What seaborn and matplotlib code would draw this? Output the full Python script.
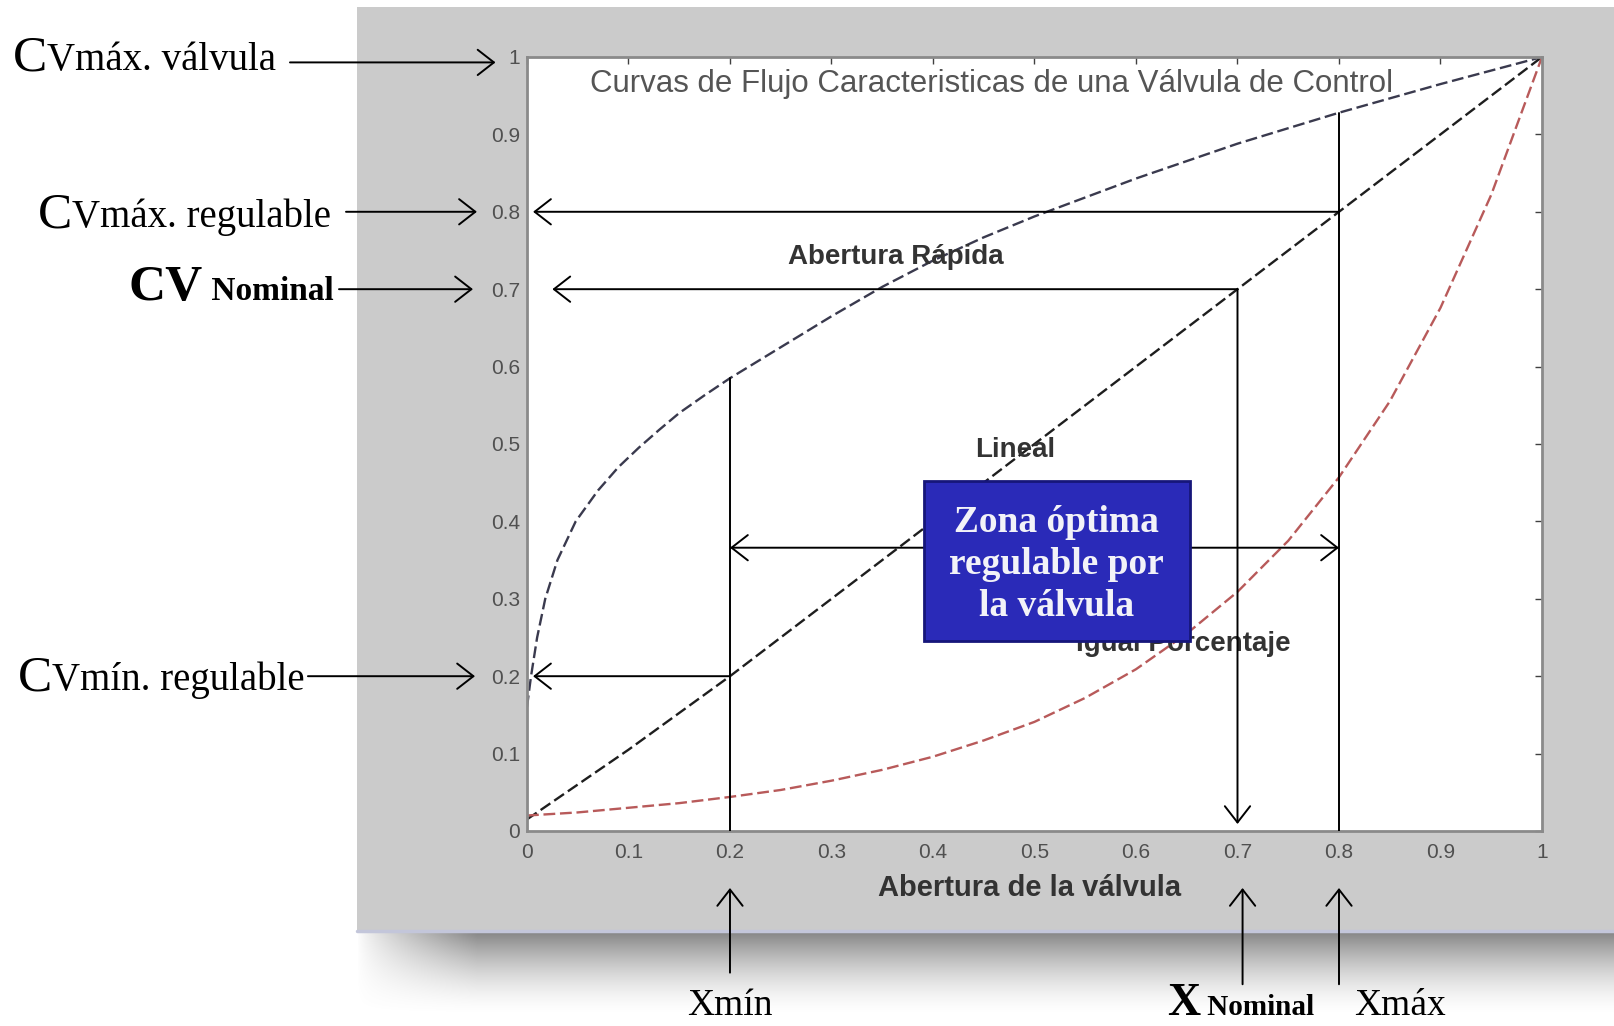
import numpy as np
import matplotlib
matplotlib.use("Agg")
import matplotlib.pyplot as plt
import seaborn as sns
from matplotlib.patches import Rectangle
from matplotlib.transforms import blended_transform_factory, IdentityTransform

# ---------------------------------------------------------------
# Datos (caudal relativo vs apertura)
# ---------------------------------------------------------------
rapida_x = [0.0, 0.004, 0.01, 0.018, 0.03, 0.048, 0.07, 0.09, 0.11, 0.13, 0.15, 0.175,
            0.20, 0.25, 0.30, 0.35, 0.40, 0.45, 0.50, 0.60, 0.70, 0.80, 0.90, 1.00]
rapida_y = [0.16, 0.20, 0.25, 0.30, 0.35, 0.40, 0.44, 0.47, 0.495, 0.518, 0.54, 0.563,
            0.585, 0.625, 0.665, 0.703, 0.737, 0.767, 0.794, 0.843, 0.888, 0.928, 0.965, 1.00]

lineal_x = [0.0, 0.1, 0.2, 0.3, 0.4, 0.5, 0.6, 0.7, 0.8, 0.9, 1.0]
lineal_y = [0.015, 0.105, 0.20, 0.30, 0.40, 0.50, 0.60, 0.70, 0.80, 0.90, 1.00]

igual_x = [0.0, 0.05, 0.10, 0.15, 0.20, 0.25, 0.30, 0.35, 0.40, 0.45, 0.50,
           0.55, 0.60, 0.65, 0.70, 0.75, 0.80, 0.85, 0.90, 0.95, 1.00]
igual_y = [0.020, 0.024, 0.030, 0.036, 0.044, 0.053, 0.065, 0.079, 0.096, 0.117, 0.141,
           0.172, 0.209, 0.255, 0.309, 0.375, 0.457, 0.555, 0.676, 0.822, 1.000]

ticks = [0, 0.1, 0.2, 0.3, 0.4, 0.5, 0.6, 0.7, 0.8, 0.9, 1.0]
tick_labels = ["0", "0.1", "0.2", "0.3", "0.4", "0.5", "0.6", "0.7", "0.8", "0.9", "1"]

x_min, x_nom, x_max = 0.2, 0.7, 0.8
cv_min, cv_nom, cv_max = 0.2, 0.7, 0.8

sns.set_theme(style="white")
plt.rcParams["font.family"] = ["Liberation Sans", "DejaVu Sans"]
SERIF = ["Liberation Serif", "DejaVu Serif"]

fig = plt.figure(figsize=(16.15, 10.26), dpi=100)
fig.patch.set_facecolor("white")

# ---------------------------------------------------------------
# Fondo: panel gris con sombra (en pixeles de la figura)
# ---------------------------------------------------------------
bg = fig.add_axes([0, 0, 1, 1], zorder=0)
yy = np.linspace(0, 1, 90)[:, None]
xx = np.linspace(0, 1258, 1258)[None, :]
alpha = (1 - yy) ** 1.6 * np.clip(xx / 120, 0, 1) ** 0.8
sombra = np.zeros((90, 1258, 4))
sombra[..., :3] = 0.5
sombra[..., 3] = alpha * 0.95
bg.imshow(sombra, extent=(357, 1615, 1015, 932), aspect="auto", interpolation="bilinear")
bg.add_patch(Rectangle((357, 7), 1615 - 357, 925, facecolor="#CBCBCB", edgecolor="none"))
bg.plot([357, 1615], [931, 931], color="#C3C6DA", lw=2.5)
bg.set_xlim(0, 1615)
bg.set_ylim(1026, 0)
bg.axis("off")

# ---------------------------------------------------------------
# Grafico principal
# ---------------------------------------------------------------
ax = fig.add_axes([0.3263, 0.19006, 0.6285, 0.7544], zorder=1)
ax.set_facecolor("white")

sns.lineplot(x=rapida_x, y=rapida_y, ax=ax, color="#3a3a4e", lw=1.7,
             linestyle=(0, (5, 2)), zorder=2)
sns.lineplot(x=lineal_x, y=lineal_y, ax=ax, color="#1e1e1e", lw=1.7,
             linestyle=(0, (5, 2)), zorder=2)
sns.lineplot(x=igual_x, y=igual_y, ax=ax, color="#b85a5a", lw=1.7,
             linestyle=(0, (5, 2)), zorder=2)

ax.set_xlim(0, 1)
ax.set_ylim(0, 1)
ax.set_xticks(ticks)
ax.set_xticklabels(tick_labels)
ax.set_yticks(ticks)
ax.set_yticklabels(tick_labels)
ax.tick_params(direction="in", length=5, width=1, color="#404040",
               top=True, right=True, labelsize=15, labelcolor="#505050")
ax.tick_params(axis="x", pad=9)
ax.tick_params(axis="y", pad=5)
for s in ax.spines.values():
    s.set_color("#8a8a8a")
    s.set_linewidth(2)

ax.set_xlabel("Abertura de la válvula", fontsize=21, fontweight="bold", color="#333333")
ax.xaxis.set_label_coords(0.495, -0.0736)
ax.xaxis.label.set_va("center")

ax.text(0.458, 0.9645, "Curvas de Flujo Caracteristicas de una Válvula de Control",
        fontsize=22.5, color="#555555", ha="center", va="center")
ax.text(0.3635, 0.741, "Abertura Rápida", fontsize=20, fontweight="bold",
        color="#333333", ha="center", va="center")
ax.text(0.481, 0.492, "Lineal", fontsize=20, fontweight="bold",
        color="#333333", ha="center", va="center")
ax.text(0.647, 0.2416, "Igual Porcentaje", fontsize=20, fontweight="bold",
        color="#333333", ha="center", va="center", zorder=3)


def flecha(x0, y0, x1, y1, coords="data", estilo="->"):
    ax.annotate("", xy=(x1, y1), xytext=(x0, y0), xycoords=coords, textcoords=coords,
                arrowprops=dict(arrowstyle=f"{estilo},head_length=0.45,head_width=0.35",
                                lw=1.4, color="black", shrinkA=0, shrinkB=0,
                                mutation_scale=26),
                annotation_clip=False, zorder=4)


# lineas de referencia dentro del grafico
q_min = rapida_y[rapida_x.index(x_min)]
q_max = rapida_y[rapida_x.index(x_max)]
ax.plot([x_min, x_min], [0, q_min], color="black", lw=1.4, zorder=4)
ax.plot([x_max, x_max], [0, q_max], color="black", lw=1.4, zorder=4)
flecha(x_max, cv_max, 0.006, cv_max)
flecha(x_nom, cv_nom, 0.025, cv_nom)
flecha(x_nom, cv_nom, x_nom, 0.009)
flecha(x_min, cv_min, 0.006, cv_min)
flecha(x_min, 0.366, x_max, 0.366, estilo="<->")

ax.add_patch(Rectangle((0.391, 0.246), 0.262, 0.206, facecolor="#2A2AB8",
                       edgecolor="#16167A", lw=2, zorder=5))
ax.text(0.522, 0.344, "Zona óptima\nregulable por\nla válvula", family=SERIF,
        fontsize=27, fontweight="bold", color="#F2F2F8", ha="center", va="center",
        linespacing=1.26, zorder=6)

# ---------------------------------------------------------------
# Etiquetas exteriores (tamano de letra mixto, misma linea base)
# ---------------------------------------------------------------
izq = blended_transform_factory(ax.transAxes, ax.transData)
abajo = blended_transform_factory(ax.transData, ax.transAxes)
renderer = fig.canvas.get_renderer()


def etiqueta(partes, x, y, trans):
    px, py = trans.transform((x, y))
    for texto, size, peso in partes:
        t = fig.text(px, py, texto, transform=IdentityTransform(), ha="left",
                     va="baseline", fontsize=size, fontweight=peso,
                     family=SERIF, color="black")
        px = t.get_window_extent(renderer).x1


etiqueta([("C", 37, "normal"), ("Vmáx. válvula", 28, "normal")], -0.5064, 0.983, izq)
flecha(-0.2335, 0.993, -0.031, 0.993, coords=("axes fraction", "data"))

etiqueta([("C", 37, "normal"), ("Vmáx. regulable", 28, "normal")], -0.4818, 0.780, izq)
flecha(-0.1783, cv_max, -0.0493, cv_max, coords=("axes fraction", "data"))

etiqueta([("CV", 37, "bold"), (" Nominal", 24, "bold")], -0.3921, 0.686, izq)
flecha(-0.1852, cv_nom, -0.0532, cv_nom, coords=("axes fraction", "data"))

etiqueta([("C", 37, "normal"), ("Vmín. regulable", 28, "normal")], -0.5015, 0.182, izq)
flecha(-0.2158, cv_min, -0.0512, cv_min, coords=("axes fraction", "data"))

base = -0.2377
ax.annotate("Xmín", xy=(x_min, base), xycoords=("data", "axes fraction"), ha="center",
            va="baseline", fontsize=27, family=SERIF, color="black", annotation_clip=False)
etiqueta([("X", 33, "bold"), (" Nominal", 21, "bold")], 0.6305, base, abajo)
etiqueta([("Xmáx", 27, "normal")], 0.815, base, abajo)

flecha(x_min, -0.183, x_min, -0.0736, coords=("data", "axes fraction"))
flecha(0.705, -0.198, 0.705, -0.0736, coords=("data", "axes fraction"))
flecha(x_max, -0.198, x_max, -0.0736, coords=("data", "axes fraction"))

fig.savefig("out.png", dpi=100)
